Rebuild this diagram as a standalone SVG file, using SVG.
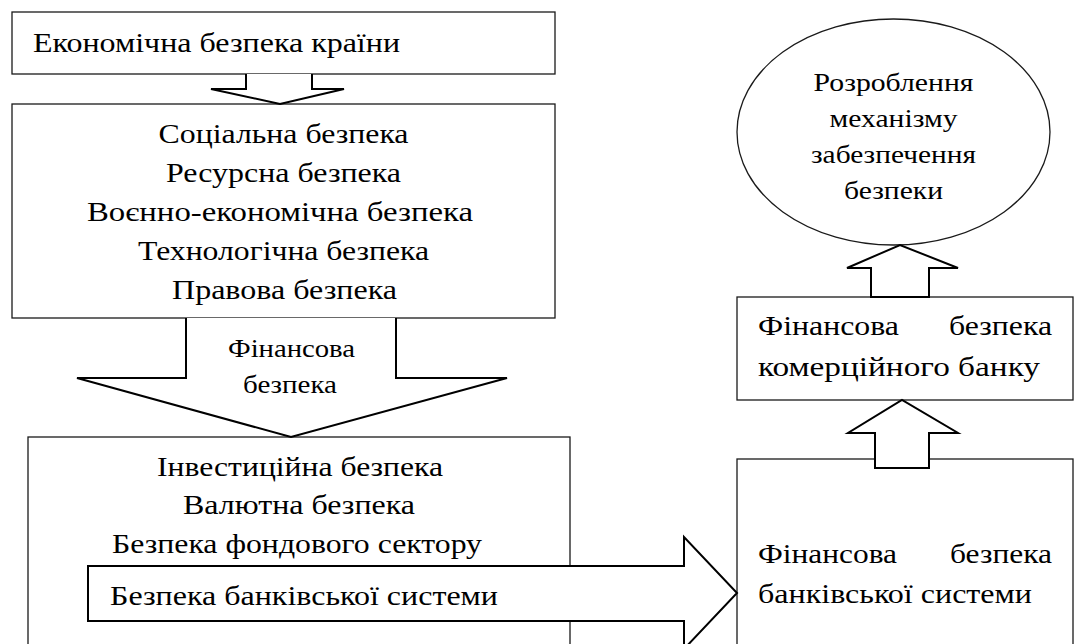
<svg xmlns="http://www.w3.org/2000/svg" width="1078" height="644" viewBox="0 0 1078 644">
<style>
  .box { fill: #fff; stroke: #1a1a1a; stroke-width: 1.3; }
  .arr { fill: #fff; stroke: #000; stroke-width: 2; stroke-linejoin: miter; }
  .t { font-family: "Liberation Serif", "Times New Roman", serif; fill: #000; }
  .l { font-size: 28px; }
  .s { font-size: 25px; }
  .c { text-anchor: middle; }
  .e { text-anchor: end; }
</style>
<rect width="1078" height="644" fill="#fff"/>

<g id="node-econ">
  <rect class="box" x="12" y="12" width="543" height="62"/>
  <text class="t l" x="33" y="52" textLength="367" lengthAdjust="spacingAndGlyphs">Економічна безпека країни</text>
</g>

<g id="node-types">
  <rect class="box" x="12" y="104" width="543" height="214"/>
  <text class="t l c" x="283.5" y="143" textLength="250" lengthAdjust="spacingAndGlyphs">Соціальна безпека</text>
  <text class="t l c" x="283.5" y="182" textLength="235" lengthAdjust="spacingAndGlyphs">Ресурсна безпека</text>
  <text class="t l c" x="280" y="221" textLength="386" lengthAdjust="spacingAndGlyphs">Воєнно-економічна безпека</text>
  <text class="t l c" x="283.5" y="260" textLength="291" lengthAdjust="spacingAndGlyphs">Технологічна безпека</text>
  <text class="t l c" x="284.5" y="299" textLength="225" lengthAdjust="spacingAndGlyphs">Правова безпека</text>
</g>

<g id="node-fin">
  <rect class="box" x="28" y="437" width="542" height="220"/>
  <text class="t l c" x="300" y="476" textLength="286" lengthAdjust="spacingAndGlyphs">Інвестиційна безпека</text>
  <text class="t l c" x="299" y="514" textLength="232" lengthAdjust="spacingAndGlyphs">Валютна безпека</text>
  <text class="t l c" x="297" y="553" textLength="370" lengthAdjust="spacingAndGlyphs">Безпека фондового сектору</text>
</g>

<g id="node-bank-system">
  <rect class="box" x="737" y="459" width="336" height="200"/>
  <text class="t l" x="758" y="563" textLength="139" lengthAdjust="spacingAndGlyphs">Фінансова</text>
  <text class="t l e" x="1052" y="563" textLength="102" lengthAdjust="spacingAndGlyphs">безпека</text>
  <text class="t l" x="758" y="603" textLength="274" lengthAdjust="spacingAndGlyphs">банківської системи</text>
</g>

<g id="node-commercial">
  <rect class="box" x="737" y="297" width="336" height="103"/>
  <text class="t l" x="758" y="335" textLength="141" lengthAdjust="spacingAndGlyphs">Фінансова</text>
  <text class="t l e" x="1052" y="335" textLength="103" lengthAdjust="spacingAndGlyphs">безпека</text>
  <text class="t l" x="758" y="376" textLength="282" lengthAdjust="spacingAndGlyphs">комерційного банку</text>
</g>

<g id="node-mechanism">
  <ellipse class="box" cx="893.5" cy="132" rx="156.5" ry="113"/>
  <text class="t s c" x="893.5" y="91" textLength="160" lengthAdjust="spacingAndGlyphs">Розроблення</text>
  <text class="t s c" x="893.5" y="127" textLength="128" lengthAdjust="spacingAndGlyphs">механізму</text>
  <text class="t s c" x="893.5" y="163" textLength="165" lengthAdjust="spacingAndGlyphs">забезпечення</text>
  <text class="t s c" x="893.5" y="199" textLength="99" lengthAdjust="spacingAndGlyphs">безпеки</text>
</g>

<g id="connectors">
  <polyline class="arr" points="246,74 246,89 211,89 280,104 344,89 312,89 312,74"/>
  <g id="arrow-financial">
    <polyline class="arr" points="186,318 186,378 77,378 291,437 507,378 396,378 396,318"/>
    <text class="t s c" x="291.5" y="357" textLength="127" lengthAdjust="spacingAndGlyphs">Фінансова</text>
    <text class="t s c" x="290" y="393" textLength="94" lengthAdjust="spacingAndGlyphs">безпека</text>
  </g>
  <g id="arrow-banking">
    <polygon class="arr" points="88,566 684,566 684,537 737,593 684,649 684,621 88,621"/>
    <text class="t l" x="110" y="605" textLength="388" lengthAdjust="spacingAndGlyphs">Безпека банківської системи</text>
  </g>
  <polygon class="arr" points="875,468 875,433 848,433 902,400 958,433 929,433 929,468"/>
  <polygon class="arr" points="871,297 871,268 847,268 900,245 958,268 929,268 929,297"/>
</g>
</svg>
